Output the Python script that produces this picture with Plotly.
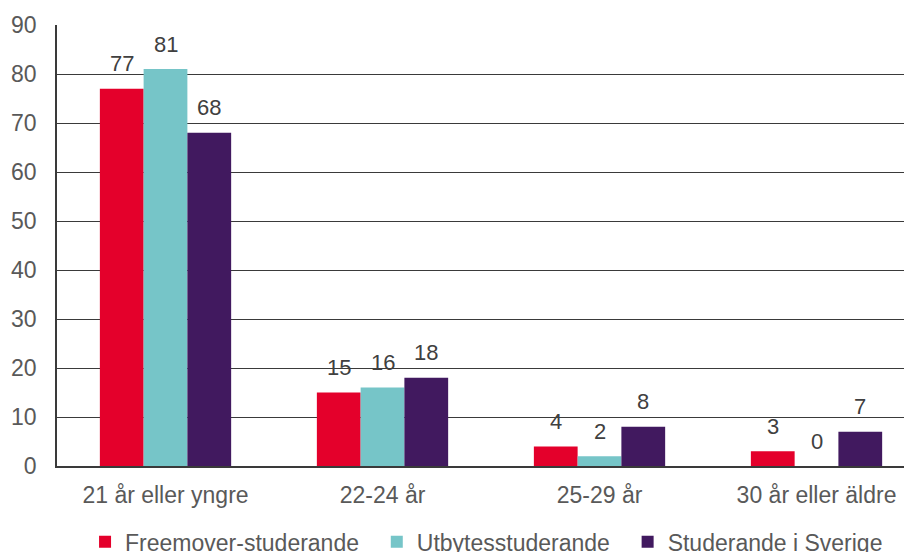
import plotly.graph_objects as go

categories = ["21 år eller yngre", "22-24 år", "25-29 år", "30 år eller äldre"]
series_names = ["Freemover-studerande", "Utbytesstuderande", "Studerande i Sverige"]
freemover = [77, 15, 4, 3]
utbytes = [81, 16, 2, 0]
sverige = [68, 18, 8, 7]
colors = ["#E4002B", "#76C5C8", "#41195F"]

series_values = [freemover, utbytes, sverige]
bargap = 0.395
n = len(series_values)
w = (1 - bargap) / n
pad = "\u00a0\u00a0"

fig = go.Figure()
for name, vals, col in zip(series_names, series_values, colors):
    fig.add_trace(go.Bar(name=name + pad, x=categories, y=vals,
                         marker=dict(color=col, line=dict(width=0))))

annotations = []
for i, vals in enumerate(series_values):
    off = (i - (n - 1) / 2) * w
    for j, v in enumerate(vals):
        annotations.append(dict(x=j + off, y=v, xref="x", yref="y", text=str(v),
                                showarrow=False, yanchor="middle", yshift=25,
                                font=dict(family="Liberation Sans, Arial", size=22, color="#404040")))

fig.update_layout(
    width=912, height=552,
    barmode="group", bargap=bargap, bargroupgap=0,
    plot_bgcolor="white", paper_bgcolor="white",
    margin=dict(l=49, r=8, t=17, b=94, autoexpand=False),
    font=dict(family="Liberation Sans, Arial", size=23, color="#595959"),
    annotations=annotations,
    showlegend=True,
    legend=dict(orientation="h", x=0.51, xanchor="center", y=-0.172, yanchor="middle",
                font=dict(size=23, color="#595959"), traceorder="normal"),
    xaxis=dict(range=[-0.5, 3.44], showline=True, linecolor="#3a3a3a", linewidth=1.5,
               ticks="", showgrid=False, ticklabelstandoff=8,
               tickfont=dict(size=23, color="#595959")),
    yaxis=dict(range=[0, 90], dtick=10, showline=True, linecolor="#3a3a3a", linewidth=1.8,
               showgrid=True, gridcolor="#3a3a3a", gridwidth=1, zeroline=False,
               ticks="", ticklabelstandoff=14, tickfont=dict(size=23, color="#595959")),
)

fig.write_html("out.html")
